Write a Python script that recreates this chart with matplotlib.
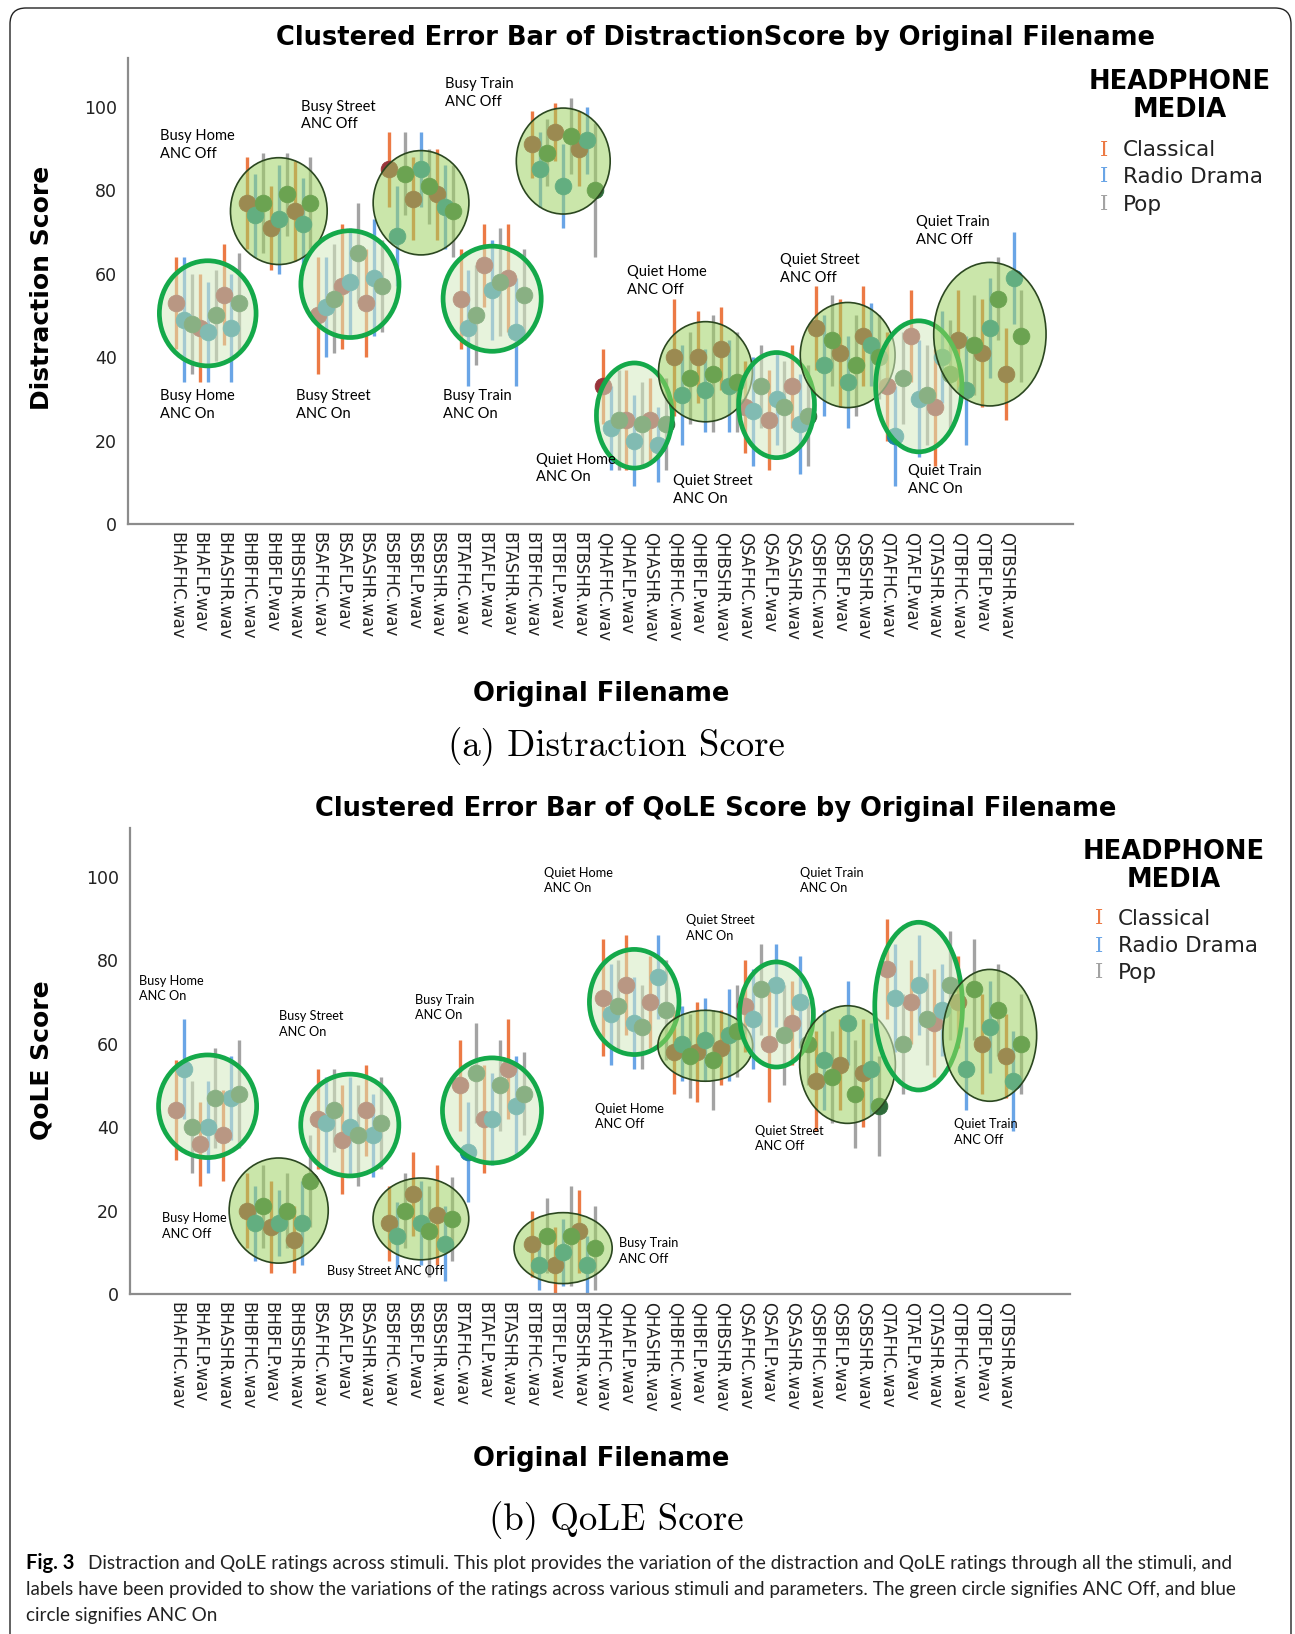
import numpy as np
import matplotlib
matplotlib.use("Agg")
from matplotlib import pyplot as plt
from matplotlib.patches import Ellipse, FancyBboxPatch
from matplotlib.colors import to_rgba

# x categories
filenames = ["BHAFHC.wav", "BHAFLP.wav", "BHASHR.wav", "BHBFHC.wav", "BHBFLP.wav", "BHBSHR.wav",
             "BSAFHC.wav", "BSAFLP.wav", "BSASHR.wav", "BSBFHC.wav", "BSBFLP.wav", "BSBSHR.wav",
             "BTAFHC.wav", "BTAFLP.wav", "BTASHR.wav", "BTBFHC.wav", "BTBFLP.wav", "BTBSHR.wav",
             "QHAFHC.wav", "QHAFLP.wav", "QHASHR.wav", "QHBFHC.wav", "QHBFLP.wav", "QHBSHR.wav",
             "QSAFHC.wav", "QSAFLP.wav", "QSASHR.wav", "QSBFHC.wav", "QSBFLP.wav", "QSBSHR.wav",
             "QTAFHC.wav", "QTAFLP.wav", "QTASHR.wav", "QTBFHC.wav", "QTBFLP.wav", "QTBSHR.wav"]
media = ["Classical", "Radio Drama", "Pop"]

# Distraction score: means and error half-widths per media
dist_classical = [53, 47, 55, 77, 71, 75, 50, 57, 53, 85, 78, 79, 54, 62, 59, 91, 94, 90,
                  33, 25, 25, 40, 40, 42, 28, 25, 33, 47, 41, 45, 33, 45, 28, 44, 41, 36]
dist_radio = [49, 46, 47, 74, 73, 72, 52, 58, 59, 69, 85, 76, 47, 56, 46, 85, 81, 92,
              23, 20, 19, 31, 32, 33, 27, 30, 24, 38, 34, 43, 21, 30, 40, 32, 47, 59]
dist_pop = [48, 50, 53, 77, 79, 77, 54, 65, 57, 84, 81, 75, 50, 58, 55, 89, 93, 80,
            25, 24, 24, 35, 36, 34, 33, 28, 26, 44, 38, 40, 35, 31, 36, 43, 54, 45]
dist_classical_err = [11, 13, 12, 11, 10, 12, 14, 15, 13, 9, 10, 11, 12, 10, 13, 8, 7, 9,
                      9, 12, 10, 14, 11, 10, 11, 12, 10, 10, 13, 12, 13, 11, 14, 12, 13, 11]
dist_radio_err = [15, 12, 13, 10, 13, 11, 12, 13, 14, 12, 9, 10, 14, 12, 13, 9, 10, 8,
                  10, 11, 9, 12, 10, 11, 13, 11, 12, 12, 11, 10, 12, 14, 11, 13, 12, 11]
dist_pop_err = [12, 11, 12, 12, 10, 11, 13, 12, 11, 10, 9, 11, 12, 13, 11, 8, 9, 16,
                12, 10, 11, 11, 14, 12, 10, 11, 12, 11, 12, 10, 11, 12, 13, 12, 10, 11]

# QoLE score
qole_classical = [44, 36, 38, 20, 16, 13, 42, 37, 44, 17, 24, 19, 50, 42, 54, 12, 7, 15,
                  71, 74, 70, 58, 58, 59, 69, 60, 65, 51, 55, 53, 78, 70, 65, 70, 60, 57]
qole_radio = [54, 40, 47, 17, 17, 17, 41, 40, 38, 14, 17, 12, 34, 42, 45, 7, 10, 7,
              67, 65, 76, 60, 61, 62, 66, 74, 70, 56, 65, 54, 71, 74, 68, 54, 64, 51]
qole_pop = [40, 47, 48, 21, 20, 27, 44, 38, 41, 20, 15, 18, 53, 50, 48, 14, 14, 11,
            69, 64, 68, 57, 56, 63, 73, 62, 60, 52, 48, 45, 60, 66, 74, 73, 68, 60]
qole_classical_err = [12, 10, 11, 9, 11, 8, 12, 13, 11, 9, 10, 12, 11, 13, 12, 8, 9, 10,
                      14, 12, 11, 10, 12, 9, 11, 14, 10, 12, 11, 13, 12, 10, 13, 11, 12, 10]
qole_radio_err = [12, 11, 10, 9, 8, 10, 11, 12, 10, 8, 10, 9, 12, 11, 12, 6, 8, 7,
                  12, 11, 10, 9, 10, 11, 12, 10, 11, 12, 10, 11, 13, 12, 11, 10, 11, 12]
qole_pop_err = [11, 12, 13, 10, 9, 11, 10, 12, 11, 9, 11, 10, 12, 11, 10, 9, 12, 10,
                11, 10, 12, 10, 12, 11, 11, 12, 10, 11, 13, 12, 12, 11, 13, 12, 11, 12]

# ellipse half sizes (x in categories, y in score units), one per group of 3 files
dist_radii = [(2.04, 12.6), (2.04, 12.8), (2.07, 12.8), (2.02, 12.5), (2.07, 12.6), (1.98, 12.7),
              (1.60, 12.6), (1.98, 12.0), (1.60, 12.6), (2.00, 12.6), (1.82, 15.7), (2.37, 17.2)]
qole_radii = [(2.07, 12.3), (2.09, 12.6), (2.07, 12.2), (2.02, 9.8), (2.09, 12.6), (2.07, 8.5),
              (1.89, 12.6), (2.00, 8.5), (1.56, 12.6), (2.02, 14.1), (1.85, 20.1), (1.98, 15.8)]

# annotation labels: (text, x, y)
dist_notes = [("Busy Home\nANC Off", -0.70, 90.9), ("Busy Street\nANC Off", 5.28, 97.9),
              ("Busy Train\nANC Off", 11.34, 103.4), ("Busy Home\nANC On", -0.70, 28.6),
              ("Busy Street\nANC On", 5.06, 28.6), ("Busy Train\nANC On", 11.26, 28.6),
              ("Quiet Home\nANC Off", 19.04, 58.2), ("Quiet Street\nANC Off", 25.46, 61.2),
              ("Quiet Train\nANC Off", 31.21, 70.2), ("Quiet Home\nANC On", 15.17, 13.3),
              ("Quiet Street\nANC On", 20.97, 8.1), ("Quiet Train\nANC On", 30.86, 10.6)]
qole_notes = [("Busy Home\nANC On", -1.58, 73.2), ("Busy Street\nANC On", 4.35, 64.7),
              ("Busy Train\nANC On", 10.07, 68.7), ("Quiet Home\nANC On", 15.52, 99.1),
              ("Quiet Street\nANC On", 21.5, 87.7), ("Quiet Train\nANC On", 26.33, 99.1),
              ("Busy Home\nANC Off", -0.61, 16.3), ("Busy Street ANC Off", 6.38, 5.5),
              ("Busy Train\nANC Off", 18.68, 10.3), ("Quiet Home\nANC Off", 17.67, 42.5),
              ("Quiet Street\nANC Off", 24.44, 37.3), ("Quiet Train\nANC Off", 32.84, 38.8)]

bar_colors = ["#ec7a45", "#6aa5e6", "#a3a3a3"]
dot_colors = ["#98343a", "#1c84a2", "#2e6b3a"]
W, H = 1295, 1634


def draw_panel(ax, means, errs, radii, notes, note_size):
    n = len(filenames)
    base = np.arange(n)
    for k in range(3):
        x = base + k/3.0
        ax.errorbar(x, means[k], yerr=errs[k], fmt='none', ecolor=bar_colors[k],
                    elinewidth=2.4, capsize=0, zorder=2)
        ax.plot(x, means[k], 'o', ms=12, mfc=dot_colors[k], mec=dot_colors[k],
                mew=0.6, zorder=3)
    allx = np.concatenate([base + k/3.0 for k in range(3)])
    ally = np.concatenate([np.array(m, dtype=float) for m in means])
    grp = np.concatenate([base // 3 for k in range(3)])
    for g, (rx, ry) in enumerate(radii):
        sel = grp == g
        cx = 0.5*(allx[sel].min() + allx[sel].max())
        cy = 0.5*(ally[sel].min() + ally[sel].max())
        if g % 2 == 0:   # ANC On
            e = Ellipse((cx, cy), 2*rx, 2*ry, facecolor=to_rgba("#d5eac0", 0.55),
                        edgecolor="#14a94a", lw=3.4, zorder=4)
        else:            # ANC Off
            e = Ellipse((cx, cy), 2*rx, 2*ry, facecolor=to_rgba("#9fd264", 0.55),
                        edgecolor="#2b4720", lw=1.2, zorder=4)
        ax.add_patch(e)
    for txt, tx, ty in notes:
        ax.text(tx, ty, txt, fontsize=note_size, family="Lato", va="center", ha="left",
                linespacing=1.35, zorder=5)

    ax.set_ylim(0, 111.7)
    ax.set_yticks([0, 20, 40, 60, 80, 100])
    ax.set_xticks(base)
    ax.set_xticklabels(filenames, rotation=270, fontsize=12, va="top", ha="center")
    ax.tick_params(axis="both", length=0, pad=6, colors="#222222")
    ax.tick_params(axis="y", labelsize=12.5, pad=8)
    for s in ["top", "right"]:
        ax.spines[s].set_visible(False)
    for s in ["left", "bottom"]:
        ax.spines[s].set_color("#8c8c8c")
        ax.spines[s].set_linewidth(1.6)


def legend(fig, xc, ytitle, xg, xt, ys):
    fig.text(xc/W, 1 - ytitle/H, "HEADPHONE\nMEDIA", ha="center", va="center",
             fontsize=18.5, fontweight="bold", linespacing=1.1)
    for k in range(3):
        fig.text(xg/W, 1 - ys[k]/H, "I", ha="center", va="center", fontsize=15,
                 family="DejaVu Serif", color=bar_colors[k])
        fig.text(xt/W, 1 - ys[k]/H, media[k], ha="left", va="center", fontsize=15.5,
                 color="#222222")


fig = plt.figure(figsize=(W/100.0, H/100.0), dpi=100)

# outer rounded frame
frame = FancyBboxPatch((0.10, -0.2), 12.81, 16.46, boxstyle="round,pad=0,rounding_size=0.16",
                       transform=fig.dpi_scale_trans, fill=False, ec="#222222", lw=1.0)
fig.patches.append(frame)

ax1 = fig.add_axes([128/W, 1 - 524/H, 945/W, 466/H])
ax1.set_xlim(-2.03, 37.84)
draw_panel(ax1, [dist_classical, dist_radio, dist_pop],
           [dist_classical_err, dist_radio_err, dist_pop_err],
           dist_radii, dist_notes, 10.5)

ax2 = fig.add_axes([130/W, 1 - 1294/H, 940/W, 466/H])
ax2.set_xlim(-1.94, 37.72)
draw_panel(ax2, [qole_classical, qole_radio, qole_pop],
           [qole_classical_err, qole_radio_err, qole_pop_err],
           qole_radii, qole_notes, 9.2)

# titles and axis labels
fig.text(716/W, 1 - 38/H, "Clustered Error Bar of DistractionScore by Original Filename",
         ha="center", va="center", fontsize=18.5, fontweight="bold")
fig.text(716/W, 1 - 809/H, "Clustered Error Bar of QoLE Score by Original Filename",
         ha="center", va="center", fontsize=18.5, fontweight="bold")
fig.text(42/W, 1 - 288/H, "Distraction Score", rotation=90, ha="center", va="center",
         fontsize=18, fontweight="bold")
fig.text(42/W, 1 - 1060/H, "QoLE Score", rotation=90, ha="center", va="center",
         fontsize=18, fontweight="bold")
fig.text(601/W, 1 - 694/H, "Original Filename", ha="center", va="center",
         fontsize=18.5, fontweight="bold")
fig.text(601/W, 1 - 1459/H, "Original Filename", ha="center", va="center",
         fontsize=18.5, fontweight="bold")

legend(fig, 1180, 96, 1104, 1123, [150, 177, 205])
legend(fig, 1174, 866, 1099, 1118, [919, 946, 973])

fig.text(616/W, 1 - 747/H, "(a) Distraction Score", ha="center", va="center",
         fontsize=26.5, family="cmr10")
fig.text(616/W, 1 - 1521/H, "(b) QoLE Score", ha="center", va="center",
         fontsize=26.5, family="cmr10")

caption = ["Distraction and QoLE ratings across stimuli. This plot provides the variation of the "
           "distraction and QoLE ratings through all the stimuli, and",
           "labels have been provided to show the variations of the ratings across various stimuli "
           "and parameters. The green circle signifies ANC Off, and blue",
           "circle signifies ANC On"]
fig.text(26/W, 1 - 1563/H, "Fig. 3", ha="left", va="center", fontsize=14.5, family="Lato",
         fontweight="bold")
fig.text(88/W, 1 - 1563/H, caption[0], ha="left", va="center", fontsize=13.6, family="Lato",
         color="#222222")
fig.text(26/W, 1 - 1590/H, caption[1], ha="left", va="center", fontsize=13.6, family="Lato",
         color="#222222")
fig.text(26/W, 1 - 1615/H, caption[2], ha="left", va="center", fontsize=13.6, family="Lato",
         color="#222222")

fig.savefig("out.png", dpi=100)
